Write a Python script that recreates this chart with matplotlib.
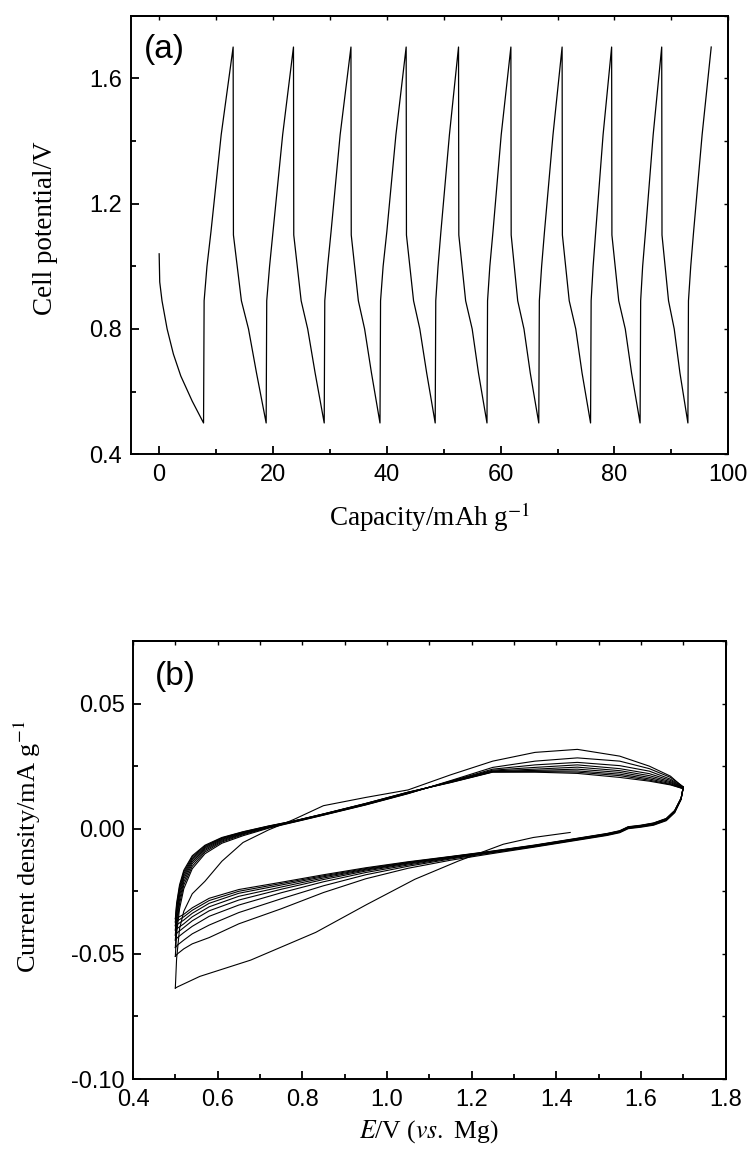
import matplotlib
matplotlib.use("Agg")
import matplotlib.pyplot as plt
from matplotlib.ticker import MultipleLocator, FormatStrFormatter

plt.rcParams['font.family'] = ['Liberation Sans', 'DejaVu Sans']
plt.rcParams['mathtext.fontset'] = 'stix'
plt.rcParams['axes.unicode_minus'] = False

# ---------- (a) galvanostatic cycling ----------
cap_a = [0.0, 0.1, 0.5, 1.4, 2.5, 3.8, 5.8, 7.8,
         7.9, 8.4, 9.1, 10.9, 13.0, 13.05, 14.45, 15.7, 17.1, 18.8,
         18.9, 19.4, 20.0, 21.7, 23.6, 23.65, 24.95, 26.1, 27.4, 29.0,
         29.1, 29.6, 30.2, 31.8, 33.7, 33.75, 35.0, 36.1, 37.3, 38.8,
         38.9, 39.35, 40.0, 41.6, 43.4, 43.45, 44.7, 45.8, 47.0, 48.5,
         48.6, 49.0, 49.5, 51.0, 52.6, 52.65, 53.85, 55.0, 56.1, 57.6,
         57.7, 58.1, 58.65, 60.1, 61.8, 61.85, 63.0, 64.1, 65.2, 66.7,
         66.8, 67.2, 67.7, 69.2, 70.8, 70.85, 72.05, 73.2, 74.3, 75.8,
         75.9, 76.25, 76.7, 78.0, 79.5, 79.55, 80.75, 81.9, 83.0, 84.5,
         84.6, 84.95, 85.45, 86.8, 88.3, 88.35, 89.5, 90.5, 91.5, 92.9,
         93.0, 93.4, 93.9, 95.4, 97.0]
volt_a = [1.04, 0.95, 0.89, 0.80, 0.72, 0.65, 0.57, 0.50,
          0.89, 1.00, 1.11, 1.42, 1.70, 1.10, 0.89, 0.80, 0.66, 0.50,
          0.89, 1.00, 1.11, 1.42, 1.70, 1.10, 0.89, 0.80, 0.66, 0.50,
          0.89, 1.00, 1.11, 1.42, 1.70, 1.10, 0.89, 0.80, 0.66, 0.50,
          0.89, 1.00, 1.11, 1.42, 1.70, 1.10, 0.89, 0.80, 0.66, 0.50,
          0.89, 1.00, 1.11, 1.42, 1.70, 1.10, 0.89, 0.80, 0.66, 0.50,
          0.89, 1.00, 1.11, 1.42, 1.70, 1.10, 0.89, 0.80, 0.66, 0.50,
          0.89, 1.00, 1.11, 1.42, 1.70, 1.10, 0.89, 0.80, 0.66, 0.50,
          0.89, 1.00, 1.11, 1.42, 1.70, 1.10, 0.89, 0.80, 0.66, 0.50,
          0.89, 1.00, 1.11, 1.42, 1.70, 1.10, 0.89, 0.80, 0.66, 0.50,
          0.89, 1.00, 1.11, 1.42, 1.70]

# ---------- (b) cyclic voltammetry ----------
E_first = [1.433, 1.346, 1.275, 1.169, 1.066, 0.951, 0.832, 0.678, 0.558, 0.505, 0.50]
I_first = [-0.0015, -0.0035, -0.0062, -0.0129, -0.0202, -0.0304, -0.0414, -0.0525, -0.0590, -0.0632, -0.0637]

E_cath = [1.70, 1.695, 1.68, 1.66, 1.63, 1.60, 1.57, 1.55, 1.52, 1.45, 1.35, 1.25,
          1.15, 1.05, 0.95, 0.85, 0.75, 0.65, 0.58, 0.54, 0.52, 0.505, 0.50]
E_anod = [0.50, 0.503, 0.51, 0.52, 0.54, 0.57, 0.61, 0.66, 0.72, 0.78, 0.85,
          0.95, 1.05, 1.15, 1.25, 1.35, 1.45, 1.55, 1.62, 1.67, 1.70]

a1 = [-0.0637, -0.052, -0.040, -0.033, -0.026, -0.021, -0.0130, -0.0055, -0.0005, 0.0037, 0.0092,
      0.0125, 0.0155, 0.0215, 0.0270, 0.0305, 0.0317, 0.0290, 0.0250, 0.0210, 0.0165]

c2 = [0.0165, 0.0118, 0.0064, 0.0032, 0.0014, 0.0006, 0.0000, -0.0016, -0.0027, -0.0046, -0.0073, -0.0099,
      -0.0126, -0.0158, -0.0200, -0.0255, -0.0320, -0.0380, -0.0435, -0.0460, -0.0480, -0.0500, -0.0510]
a2 = [-0.0510, -0.0420, -0.0320, -0.0240, -0.0160, -0.0100, -0.0058, -0.0028, 0.0002, 0.0026, 0.0054,
      0.0095, 0.0140, 0.0192, 0.0245, 0.0270, 0.0283, 0.0270, 0.0240, 0.0205, 0.0168]
c3 = [0.0168, 0.0117, 0.0066, 0.0034, 0.0016, 0.0008, 0.0002, -0.0014, -0.0025, -0.0044, -0.0071, -0.0096,
      -0.0121, -0.0150, -0.0184, -0.0228, -0.0280, -0.0335, -0.0385, -0.0420, -0.0445, -0.0465, -0.0475]
a3 = [-0.0475, -0.0395, -0.0300, -0.0225, -0.0150, -0.0093, -0.0053, -0.0024, 0.0004, 0.0027, 0.0055,
      0.0096, 0.0141, 0.0190, 0.0238, 0.0255, 0.0265, 0.0252, 0.0230, 0.0198, 0.0166]
c4 = [0.0166, 0.0118, 0.0068, 0.0036, 0.0018, 0.0009, 0.0003, -0.0013, -0.0024, -0.0043, -0.0070, -0.0094,
      -0.0118, -0.0145, -0.0175, -0.0212, -0.0256, -0.0305, -0.0350, -0.0390, -0.0415, -0.0435, -0.0445]
a4 = [-0.0445, -0.0370, -0.0283, -0.0212, -0.0140, -0.0087, -0.0049, -0.0021, 0.0006, 0.0028, 0.0056,
      0.0097, 0.0142, 0.0189, 0.0234, 0.0245, 0.0255, 0.0240, 0.0220, 0.0193, 0.0164]
c5 = [0.0164, 0.0119, 0.0069, 0.0037, 0.0019, 0.0010, 0.0004, -0.0012, -0.0023, -0.0042, -0.0069, -0.0093,
      -0.0116, -0.0141, -0.0169, -0.0203, -0.0242, -0.0285, -0.0328, -0.0368, -0.0395, -0.0415, -0.0425]
a5 = [-0.0425, -0.0350, -0.0268, -0.0200, -0.0132, -0.0082, -0.0045, -0.0019, 0.0007, 0.0029, 0.0057,
      0.0098, 0.0143, 0.0188, 0.0231, 0.0238, 0.0246, 0.0232, 0.0212, 0.0188, 0.0163]
c6 = [0.0163, 0.0120, 0.0070, 0.0038, 0.0020, 0.0011, 0.0005, -0.0011, -0.0022, -0.0041, -0.0068, -0.0092,
      -0.0114, -0.0138, -0.0165, -0.0197, -0.0233, -0.0270, -0.0312, -0.0352, -0.0380, -0.0398, -0.0405]
a6 = [-0.0405, -0.0335, -0.0255, -0.0190, -0.0125, -0.0077, -0.0042, -0.0017, 0.0008, 0.0030, 0.0058,
      0.0099, 0.0144, 0.0187, 0.0229, 0.0233, 0.0238, 0.0225, 0.0205, 0.0184, 0.0162]
c7 = [0.0162, 0.0121, 0.0071, 0.0039, 0.0021, 0.0012, 0.0006, -0.0010, -0.0021, -0.0040, -0.0067, -0.0091,
      -0.0113, -0.0136, -0.0162, -0.0192, -0.0225, -0.0258, -0.0298, -0.0338, -0.0365, -0.0382, -0.0388]
a7 = [-0.0388, -0.0320, -0.0243, -0.0181, -0.0119, -0.0073, -0.0039, -0.0015, 0.0009, 0.0030, 0.0058,
      0.0100, 0.0145, 0.0186, 0.0228, 0.0230, 0.0231, 0.0218, 0.0199, 0.0180, 0.0161]
c8 = [0.0161, 0.0122, 0.0072, 0.0040, 0.0022, 0.0013, 0.0007, -0.0009, -0.0020, -0.0039, -0.0066, -0.0090,
      -0.0112, -0.0134, -0.0159, -0.0188, -0.0219, -0.0250, -0.0287, -0.0326, -0.0352, -0.0368, -0.0373]
a8 = [-0.0373, -0.0308, -0.0233, -0.0173, -0.0113, -0.0069, -0.0037, -0.0013, 0.0010, 0.0031, 0.0059,
      0.0101, 0.0146, 0.0185, 0.0227, 0.0228, 0.0226, 0.0212, 0.0194, 0.0177, 0.0160]
c9 = [0.0160, 0.0123, 0.0073, 0.0041, 0.0023, 0.0014, 0.0008, -0.0008, -0.0019, -0.0038, -0.0065, -0.0089,
      -0.0111, -0.0132, -0.0156, -0.0184, -0.0214, -0.0243, -0.0278, -0.0316, -0.0342, -0.0356, -0.0360]
a9 = [-0.0360, -0.0298, -0.0224, -0.0166, -0.0108, -0.0066, -0.0035, -0.0012, 0.0011, 0.0031, 0.0059,
      0.0101, 0.0146, 0.0184, 0.0226, 0.0226, 0.0221, 0.0205, 0.0190, 0.0175, 0.0160]

cathodic = [c2, c3, c4, c5, c6, c7, c8, c9]
anodic = [a1, a2, a3, a4, a5, a6, a7, a8, a9]

serif = ['Liberation Serif', 'DejaVu Serif']
W, H = 752, 1151
fig = plt.figure(figsize=(W / 100, H / 100), dpi=100)


def style(ax, xmaj, xmin, ymaj, ymin, fmt_x, fmt_y):
    for s in ax.spines.values():
        s.set_linewidth(1.4)
    ax.xaxis.set_major_locator(MultipleLocator(xmaj))
    ax.xaxis.set_minor_locator(MultipleLocator(xmin))
    ax.yaxis.set_major_locator(MultipleLocator(ymaj))
    ax.yaxis.set_minor_locator(MultipleLocator(ymin))
    ax.xaxis.set_major_formatter(FormatStrFormatter(fmt_x))
    ax.yaxis.set_major_formatter(FormatStrFormatter(fmt_y))
    ax.tick_params(which='both', direction='in', top=False, right=False, labelsize=17, width=1.3)
    ax.tick_params(which='major', length=6)
    ax.tick_params(which='minor', length=3.5)
    ax.tick_params(axis='x', pad=7)
    ax.tick_params(axis='y', pad=6)
    # short ticks on top and right
    top = ax.secondary_xaxis('top')
    top.xaxis.set_major_locator(MultipleLocator(xmin))
    top.tick_params(direction='in', length=3, width=1, labeltop=False)
    top.spines['top'].set_linewidth(1.4)
    right = ax.secondary_yaxis('right')
    right.yaxis.set_major_locator(MultipleLocator(ymin))
    right.tick_params(direction='in', length=3, width=1, labelright=False)
    right.spines['right'].set_linewidth(1.4)


# panel (a)
ax1 = fig.add_axes([130.7 / W, 1 - 454.3 / H, 597.6 / W, 438.6 / H])
ax1.plot(cap_a, volt_a, color='black', lw=0.9)
ax1.set_xlim(-5, 100)
ax1.set_ylim(0.4, 1.8)
style(ax1, 20, 10, 0.4, 0.2, '%d', '%.1f')
ax1.set_xlabel('Capacity/mAh g$^{-1}$', family=serif, fontsize=19.5)
ax1.xaxis.set_label_coords(0.5, -0.104)
ax1.set_ylabel('Cell potential/V', family=serif, fontsize=19.5)
ax1.yaxis.set_label_coords(-0.122, 0.515)
ax1.text(0.022, 0.924, '(a)', transform=ax1.transAxes, fontsize=24, ha='left', va='center')

# panel (b)
ax2 = fig.add_axes([133 / W, 1 - 1079 / H, 592.5 / W, 438 / H])
ax2.plot(E_first, I_first, color='black', lw=0.8)
for ic in cathodic:
    ax2.plot(E_cath, ic, color='black', lw=0.8)
for ia in anodic:
    ax2.plot(E_anod, ia, color='black', lw=0.8)
ax2.set_xlim(0.4, 1.8)
ax2.set_ylim(-0.10, 0.075)
style(ax2, 0.2, 0.1, 0.05, 0.025, '%.1f', '%.2f')
ax2.set_xlabel('$E$/V ($vs.$ Mg)', family=serif, fontsize=18.5)
ax2.xaxis.set_label_coords(0.5, -0.09)
ax2.set_ylabel('Current density/mA g$^{-1}$', family=serif, fontsize=19)
ax2.yaxis.set_label_coords(-0.152, 0.53)
ax2.text(0.037, 0.918, '(b)', transform=ax2.transAxes, fontsize=24, ha='left', va='center')

fig.savefig('out.png', dpi=100)
